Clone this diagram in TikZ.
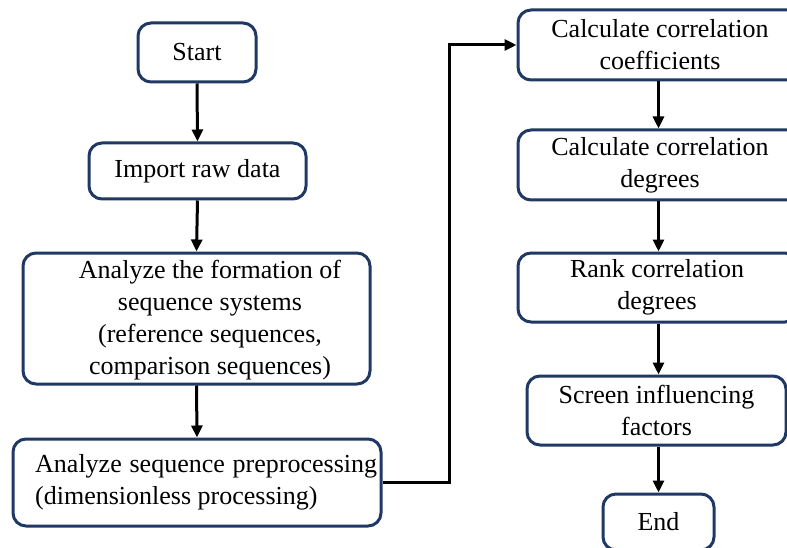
\documentclass[tikz,border=0pt]{standalone}
\usepackage{fontspec}
\setmainfont{Liberation Serif}
\usetikzlibrary{arrows.meta}
\definecolor{navy}{HTML}{1F3864}
\begin{document}
\begin{tikzpicture}[x=1pt,y=-1pt,
  box/.style={draw=navy,line width=3pt,rounded corners=13pt,inner sep=0pt,fill=white},
  txt/.style={font=\fontsize{26}{32}\selectfont,align=center,inner sep=0pt},
  arr/.style={line width=3pt,-{Triangle[length=12pt,width=11pt]}}]
\useasboundingbox (0,0) rectangle (787,548);
\clip (0,0) rectangle (787,548);
\fill[white] (0,0) rectangle (787,548);
% left column
\node[box,minimum width=118pt,minimum height=59pt] (start) at (197,52.5) {};
\node[txt] at (start) {Start};
\node[box,minimum width=217pt,minimum height=56pt] (import) at (197.5,171) {};
\node[txt] at (import) {Import raw data};
\node[box,minimum width=347pt,minimum height=131pt] (form) at (196.5,318.5) {};
\node[txt] at (210,320) {Analyze the formation of\\sequence systems\\(reference sequences,\\comparison sequences)};
\node[box,minimum width=368pt,minimum height=87pt] (prep) at (197,482.5) {};
\node[txt,align=left,anchor=west] at (35,482) {\spaceskip=7.8pt\relax Analyze sequence preprocessing\\(dimensionless processing)};
% right column
\node[box,minimum width=284pt,minimum height=70pt] (coef) at (660,45) {};
\node[txt] at (660,45) {Calculate correlation\\coefficients};
\node[box,minimum width=284pt,minimum height=70pt] (deg) at (660,165) {};
\node[txt] at (660,165) {Calculate correlation\\degrees};
\node[box,minimum width=280pt,minimum height=69pt] (rank) at (658,287.5) {};
\node[txt] at (657,287.5) {Rank correlation\\degrees};
\node[box,minimum width=259pt,minimum height=69pt] (screen) at (656.5,410.5) {};
\node[txt] at (656.5,410) {Screen influencing\\factors};
\node[box,minimum width=111pt,minimum height=56pt] (end) at (658.5,522) {};
\node[txt] at (658.5,522) {End};
% connectors
\draw[arr] (start.south) -- (import.north);
\draw[arr] (import.south) -- (form.north);
\draw[arr] (form.south) -- (prep.north);
\draw[arr] (prep.east) -- (449,482.5) -- (449,45) -- (coef.west);
\draw[arr] (coef.south -| end) -- (deg.north -| end);
\draw[arr] (deg.south -| end) -- (rank.north -| end);
\draw[arr] (rank.south -| end) -- (screen.north -| end);
\draw[arr] (screen.south -| end) -- (end.north);
\end{tikzpicture}
\end{document}
